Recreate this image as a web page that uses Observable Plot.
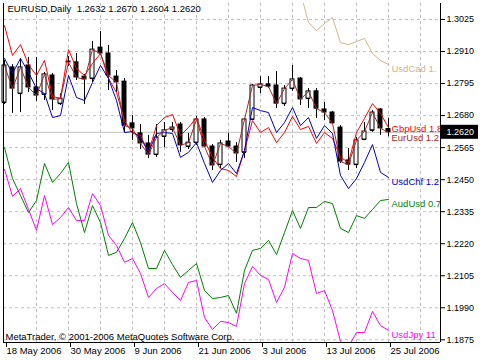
<!DOCTYPE html>
<html><head><meta charset="utf-8">
<script src="https://cdn.jsdelivr.net/npm/d3@7"></script>
<script src="https://cdn.jsdelivr.net/npm/@observablehq/plot@0.6"></script>
<style>
html,body{margin:0;padding:0;background:#fff;}
#chart svg{display:block;}
</style></head><body><div id="chart"></div>
<script>
// EURUSD daily OHLC, 18 May 2006 .. 25 Jul 2006 (49 bars)
const open  = [1.2727,1.2853,1.2759,1.2860,1.2781,1.2756,1.2824,1.2723,1.2874,1.2871,1.2820,1.2813,1.2924,1.2903,1.2820,1.2802,1.2652,1.2616,1.2580,1.2540,1.2605,1.2630,1.2648,1.2569,1.2583,1.2666,1.2569,1.2504,1.2587,1.2569,1.2548,1.2666,1.2781,1.2792,1.2788,1.2723,1.2777,1.2813,1.2741,1.2767,1.2702,1.2691,1.2637,1.2519,1.2504,1.2594,1.2627,1.2702,1.2632];
const high  = [1.2878,1.2863,1.2885,1.2889,1.2889,1.2835,1.2831,1.2759,1.2892,1.2903,1.2828,1.2946,1.2982,1.2932,1.2842,1.2813,1.2680,1.2648,1.2609,1.2648,1.2655,1.2655,1.2655,1.2616,1.2677,1.2673,1.2576,1.2591,1.2616,1.2583,1.2670,1.2792,1.2820,1.2820,1.2838,1.2788,1.2860,1.2817,1.2777,1.2777,1.2727,1.2695,1.2644,1.2562,1.2601,1.2655,1.2698,1.2705,1.2670];
const low   = [1.2720,1.2688,1.2691,1.2763,1.2731,1.2734,1.2698,1.2716,1.2856,1.2806,1.2720,1.2799,1.2896,1.2770,1.2763,1.2620,1.2591,1.2558,1.2526,1.2530,1.2565,1.2620,1.2548,1.2558,1.2573,1.2565,1.2483,1.2490,1.2565,1.2512,1.2526,1.2662,1.2759,1.2777,1.2705,1.2713,1.2767,1.2716,1.2705,1.2670,1.2662,1.2648,1.2508,1.2483,1.2490,1.2591,1.2620,1.2609,1.2604];
const close = [1.2860,1.2777,1.2853,1.2781,1.2752,1.2828,1.2738,1.2741,1.2871,1.2817,1.2810,1.2917,1.2903,1.2824,1.2799,1.2644,1.2634,1.2580,1.2540,1.2601,1.2627,1.2637,1.2573,1.2583,1.2666,1.2569,1.2501,1.2580,1.2569,1.2544,1.2666,1.2788,1.2792,1.2784,1.2723,1.2777,1.2810,1.2738,1.2767,1.2705,1.2691,1.2652,1.2515,1.2504,1.2591,1.2623,1.2691,1.2634,1.2620];

// Overlay symbols, in the EURUSD price scale of the chart
const gbpusd = [1.3003,1.2896,1.2935,1.2863,1.2824,1.2878,1.2749,1.2741,1.2917,1.2849,1.2824,1.2867,1.2903,1.2813,1.2763,1.2662,1.2616,1.2609,1.2548,1.2644,1.2673,1.2684,1.2609,1.2637,1.2673,1.2591,1.2530,1.2490,1.2483,1.2461,1.2555,1.2662,1.2619,1.2637,1.2583,1.2619,1.2677,1.2630,1.2641,1.2580,1.2619,1.2598,1.2530,1.2512,1.2619,1.2670,1.2723,1.2688,1.2637];
const usdchf = [1.2885,1.2831,1.2885,1.2835,1.2777,1.2759,1.2673,1.2680,1.2824,1.2745,1.2734,1.2799,1.2860,1.2813,1.2734,1.2619,1.2623,1.2601,1.2548,1.2616,1.2619,1.2616,1.2530,1.2548,1.2583,1.2508,1.2440,1.2483,1.2508,1.2472,1.2555,1.2709,1.2698,1.2691,1.2619,1.2655,1.2709,1.2644,1.2673,1.2598,1.2644,1.2616,1.2465,1.2418,1.2454,1.2512,1.2576,1.2476,1.2458];
const audusd = [1.2565,1.2454,1.2393,1.2332,1.2375,1.2508,1.2440,1.2472,1.2512,1.2364,1.2260,1.2357,1.2296,1.2178,1.2189,1.2239,1.2296,1.2224,1.2131,1.2131,1.2196,1.2145,1.2099,1.2124,1.2149,1.2052,1.2023,1.2027,1.2034,1.1970,1.2124,1.2196,1.2203,1.2232,1.2181,1.2260,1.2339,1.2275,1.2350,1.2350,1.2372,1.2364,1.2275,1.2260,1.2321,1.2311,1.2343,1.2375,1.2379];
const usdjpy = [1.2487,1.2390,1.2418,1.2343,1.2268,1.2393,1.2289,1.2314,1.2350,1.2303,1.2303,1.2400,1.2357,1.2250,1.2214,1.2153,1.2167,1.2113,1.2027,1.2059,1.2077,1.2045,1.2016,1.2081,1.2088,1.1955,1.1912,1.1941,1.1937,1.1923,1.2077,1.2138,1.2106,1.2092,1.2009,1.2063,1.2185,1.2167,1.2160,1.2041,1.2052,1.1980,1.1869,1.1851,1.1901,1.1901,1.1977,1.1926,1.1909];
const usdcad = [null,null,null,null,null,null,null,null,null,null,null,null,null,null,null,null,null,null,null,null,null,null,null,null,null,null,null,null,null,null,null,null,null,null,null,null,1.3165,1.3122,1.3014,1.2985,1.3011,1.3032,1.2942,1.2935,1.2946,1.2957,1.2903,1.2878,1.2863];

const seriesNames  = ["UsdCad","GbpUsd","UsdChf","AudUsd","UsdJpy","EurUsd"];
const seriesLabels = ["UsdCad 1.","GbpUsd 1.8","UsdChf 1.2","AudUsd 0.7","UsdJpy 11","EurUsd 1.2"];
const seriesColors = ["#d2b48c","#ff0000","#0000c8","#008000","#ff00ff","#a52a2a"];
const seriesValues = [usdcad, gbpusd, usdchf, audusd, usdjpy, close];

const yTicks = [1.1875,1.1990,1.2105,1.2220,1.2335,1.2450,1.2565,1.2680,1.2795,1.2910,1.3025];
const dateTickBars = [0,8,16,24,32,40,48];
const dateTickLabels = ["18 May 2006","30 May 2006","9 Jun 2006","21 Jun 2006","3 Jul 2006","13 Jul 2006","25 Jul 2006"];
const gridBars = [4,8,12,16,20,24,28,32,36,40,44,48,52];
const titleText = "EURUSD,Daily  1.2632 1.2670 1.2604 1.2620";
const copyrightText = "MetaTrader, \u00A9 2001-2006 MetaQuotes Software Corp.";

const last = open.length - 1;
const bars = open.map((o, i) => ({i, o, h: high[i], l: low[i], c: close[i], fill: close[i] >= o ? "white" : "black"}));
const series = seriesNames.map((name, k) => ({name, label: seriesLabels[k], color: seriesColors[k], values: seriesValues[k]}));

const xDomain = [-0.125, 54.5];
const yDomain = [1.18653, 1.30825];

const font = "'Liberation Sans', Arial, sans-serif";

const marks = [
  Plot.ruleY(yTicks, {stroke: "#c0c0c0", strokeDasharray: "3,3"}),
  Plot.ruleX(gridBars, {stroke: "#c0c0c0", strokeDasharray: "3,3"}),
  Plot.ruleY([close[last]], {stroke: "#c0c0c0"}),
  Plot.text([titleText], {frameAnchor: "top-left", dx: 4, dy: 2, lineAnchor: "top", fontSize: 9.5, fill: "black"}),
  Plot.text([copyrightText], {frameAnchor: "bottom-left", dx: 2, dy: -3, lineAnchor: "bottom", fontSize: 9.5, fill: "black"}),
  // candles
  Plot.ruleX(bars, {x: "i", y1: "l", y2: "h", stroke: "black"}),
  Plot.rect(bars, {x1: d => d.i - 0.25, x2: d => d.i + 0.25, y1: "o", y2: "c", fill: "fill", stroke: "black"}),
  Plot.ruleY(bars, {x1: d => d.i - 0.25, x2: d => d.i + 0.25, y: "o", stroke: "black"}),
];
for (const s of series) {
  marks.push(Plot.line(s.values, {x: (d, i) => i, y: d => d, stroke: s.color, strokeWidth: 1, clip: true}));
}
for (const s of series) {
  marks.push(Plot.text([s], {x: last, y: d => d.values[last], text: "label", fill: s.color, textAnchor: "start", lineAnchor: "top", dx: 3, dy: s.name === "GbpUsd" ? -2 : s.name === "EurUsd" ? 2 : 1, fontSize: 9.5, clip: true}));
}
marks.push(
  // frame lines
  Plot.ruleX([xDomain[0], xDomain[1]], {stroke: "black"}),
  Plot.ruleY([yDomain[0]], {stroke: "black"}),
  Plot.axisY(yTicks, {anchor: "right", tickSize: 4, tickPadding: 2, tickFormat: d => d.toFixed(4), fontSize: 9, label: null, stroke: "black", fill: "black"}),
  Plot.axisX(dateTickBars, {anchor: "bottom", tickSize: 5, tickPadding: 0, tickFormat: d => dateTickLabels[dateTickBars.indexOf(d)], textAnchor: "start", dx: 2, fontSize: 9.5, label: null, stroke: "black", fill: "black"}),
  // current price box
  Plot.rect([close[last]], {x1: 54.625, x2: 59.25, y1: d => d, y2: d => d, insetTop: -7, insetBottom: -7, fill: "black"}),
  Plot.text([close[last]], {x: xDomain[1], y: d => d, text: d => d.toFixed(4), fill: "white", textAnchor: "start", dx: 6, fontSize: 9})
);

const chart = Plot.plot({
  width: 480, height: 360,
  marginLeft: 3, marginRight: 40, marginTop: 3, marginBottom: 18,
  x: {domain: xDomain},
  y: {domain: yDomain},
  color: {type: "identity"},
  style: {fontFamily: font, fontSize: "9.5px", background: "white", color: "black", overflow: "visible"},
  marks
});
document.getElementById("chart").appendChild(chart);
</script></body></html>
